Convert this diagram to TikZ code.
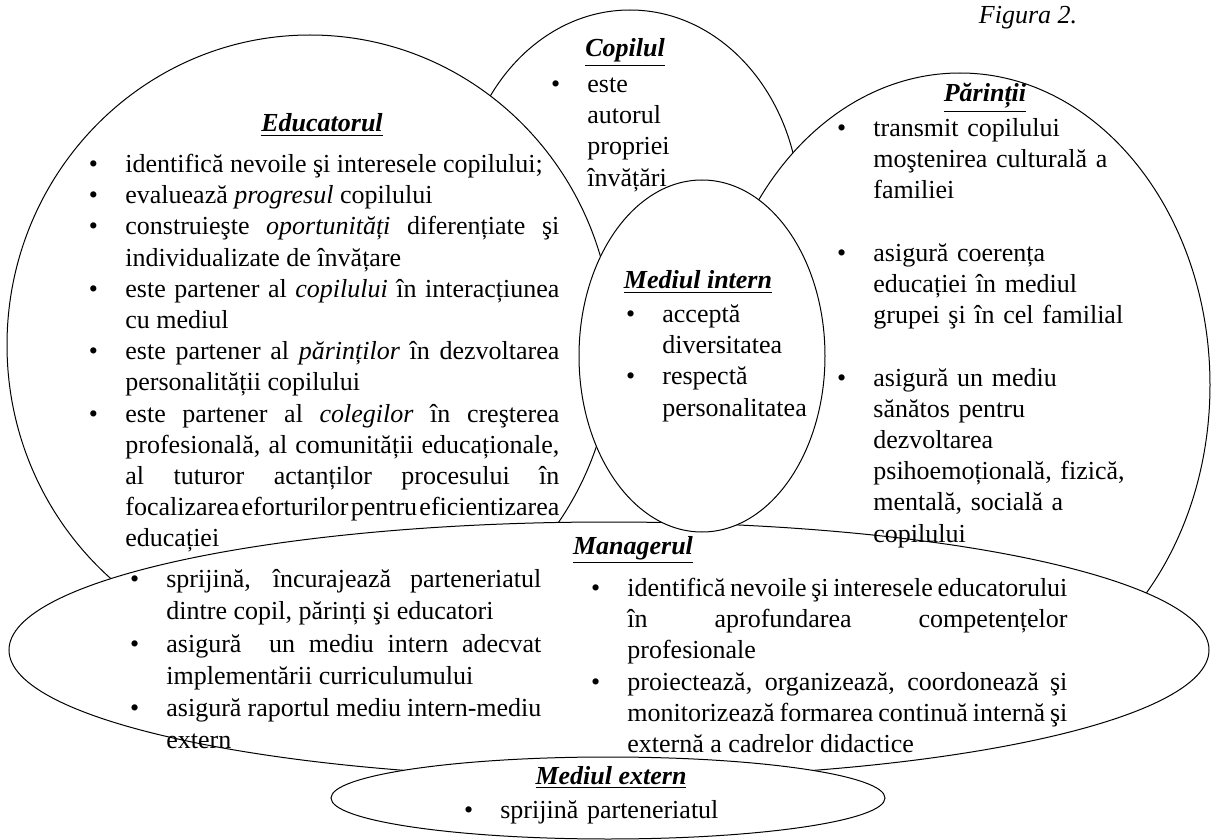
\documentclass[tikz,border=0pt]{standalone}
\usepackage{fontspec}
\setmainfont{Liberation Serif}
\usepackage{tikz}

\hyphenpenalty=10000
\exhyphenpenalty=10000

% element de listă cu bulină și indent agățat
\newcommand{\itm}{\par\noindent\hangindent=20pt\hangafter=1\strut\makebox[20pt][l]{\hspace{1.8pt}\textbullet}\ignorespaces}
\newcommand{\ttl}[1]{\underline{\textbf{\textit{#1}}}}

\begin{document}
\begin{tikzpicture}[
    x=0.5pt, y=-0.5pt,
    every node/.style={font=\fontsize{13}{15.6}\selectfont, inner sep=0pt},
    zona/.style={draw=black, line width=0.5pt, fill=white},
    titlu/.style={anchor=base},
    listaJ/.style={anchor=north west, align=justify},
    listaL/.style={anchor=north west, align=left}
]
\useasboundingbox[fill=white] (0,0) rectangle (1212,840);

% ============== Elipsele (ordinea contează) ==============
\draw[zona] (630,210) ellipse [x radius=170, y radius=200];   % copilul
\draw[zona] (310,345) ellipse [x radius=303, y radius=310];   % educatorul
\draw[zona] (960,385) ellipse [x radius=250, y radius=312];   % părinții
\draw[zona] (609,650) ellipse [x radius=600, y radius=128];   % managerul
\draw[zona] (702,356) ellipse [x radius=123, y radius=176];   % mediul intern
\draw[zona] (608,798) ellipse [x radius=277, y radius=41];    % mediul extern

% ============== Titluri ==============
\node[titlu] (figT) at (1028,24) {\textit{Figura 2.}};
\node[titlu] (copilT) at (625,57) {\ttl{Copilul}};
\node[titlu] (educT) at (322,132) {\ttl{Educatorul}};
\node[titlu] (parT) at (985,102) {\ttl{Părinții}};
\node[titlu] (intT) at (698,289) {\ttl{Mediul intern}};
\node[titlu] (manT) at (633,554) {\ttl{Managerul}};
\node[titlu] (extT) at (611,784) {\ttl{Mediul extern}};

% ============== Copilul (sus) ==============
\node[listaL, text width=90pt] (copil) at (547,61) {%
\itm este\newline autorul\newline propriei\newline învățări\par};

% ============== Educatorul (stânga) ==============
\node[listaJ, text width=237pt] (educ) at (85,141) {%
\itm identifică nevoile şi interesele copilului;
\itm evaluează \textit{progresul} copilului
\itm construieşte \textit{oportunități} diferențiate şi\linebreak individualizate de învățare
\itm este partener al \textit{copilului} în interacțiunea\linebreak cu mediul
\itm este partener al \textit{părinților} în dezvoltarea\linebreak personalității copilului
\itm este partener al \textit{colegilor} în creşterea\linebreak profesională, al comunității educaționale,\linebreak al tuturor actanților procesului în\linebreak
\hbox to 217pt{\spaceskip=0.2em plus 1em minus 0.12em focalizarea eforturilor pentru eficientizarea}\linebreak educației\par};

% ============== Mediul intern (centru) ==============
\node[listaL, text width=110pt] (intern) at (622,291) {%
\itm acceptă\newline diversitatea
\itm respectă\newline personalitatea\par};

% ============== Părinții (dreapta) ==============
\node[listaL, text width=170pt] (parinti) at (833,105) {%
\itm transmit copilului\newline moştenirea culturală a\newline familiei
\par\vspace{15.6pt}
\itm asigură coerența\newline educației în mediul\newline grupei şi în cel familial
\par\vspace{15.6pt}
\itm asigură un mediu\newline sănătos pentru\newline dezvoltarea\newline psihoemoțională, fizică,\newline mentală, socială a\newline copilului\par};

% ============== Managerul (jos) ==============
\node[listaJ, text width=207.5pt, font=\fontsize{13}{16.1}\selectfont] (manL) at (126,555) {%
\itm sprijină, încurajează parteneriatul\linebreak dintre copil, părinți şi educatori
\itm asigură \ un mediu intern adecvat\linebreak implementării curriculumului
\itm asigură raportul mediu intern-mediu\linebreak extern\par};
\node[listaJ, text width=240pt] (manR) at (587,565) {%
\itm identifică nevoile şi interesele educatorului\linebreak în aprofundarea competențelor\linebreak profesionale
\itm proiectează, organizează, coordonează şi\linebreak monitorizează formarea continuă internă şi\linebreak externă a cadrelor didactice\par};

% ============== Mediul extern ==============
\node[listaL, text width=150pt] (ext) at (460,787) {%
\itm sprijină parteneriatul\par};
\end{tikzpicture}
\end{document}
